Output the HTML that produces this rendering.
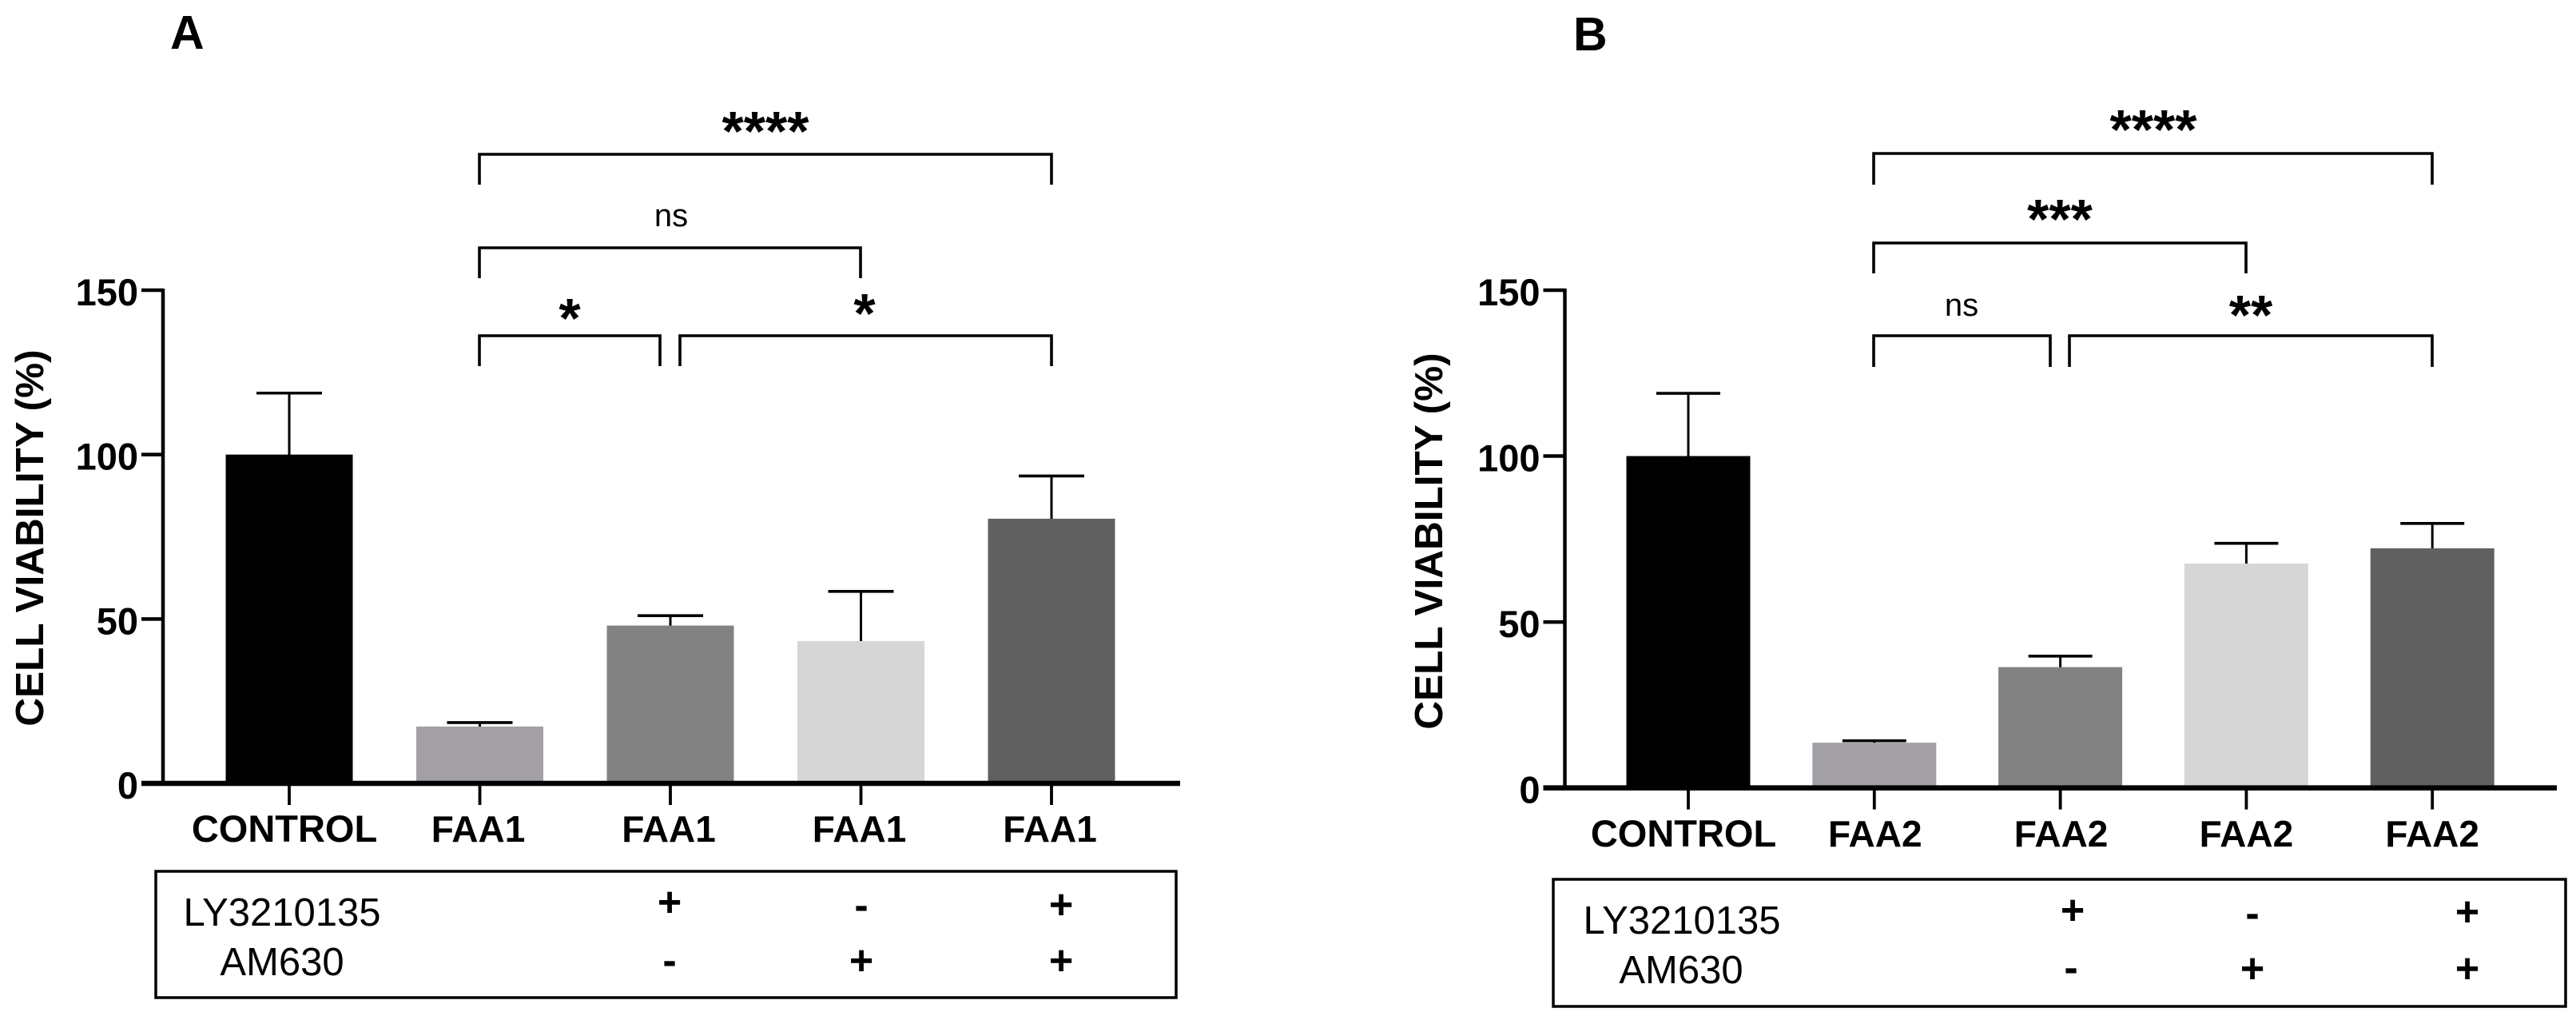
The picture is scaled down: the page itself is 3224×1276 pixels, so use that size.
<!DOCTYPE html>
<html lang="en">
<head>
<meta charset="utf-8">
<title>Cell viability</title>
<style>
html,body{margin:0;padding:0;background:#fff;width:3224px;height:1276px;overflow:hidden}
svg{display:block}
text{font-family:"Liberation Sans",Arial,sans-serif;fill:#000}
.b{font-weight:700}
.br{fill:none;stroke:#000;stroke-width:3.6}
.star{font-weight:700;font-size:70px;text-anchor:middle}
.ns{font-size:40px;text-anchor:middle}
.reg{font-size:49px;text-anchor:middle}
.sign{font-size:52px;font-weight:700;text-anchor:middle}
.box{fill:none;stroke:#000;stroke-width:3.5}
</style>
</head>
<body>
<svg id="chart" xmlns="http://www.w3.org/2000/svg" width="3224" height="1276" viewBox="0 0 3224 1276">
  <rect x="0" y="0" width="3224" height="1276" fill="#fff"/>

  <g id="panel-a">
    <text class="b" x="213" y="61" font-size="59">A</text>
    <path class="br" d="M600 231V193H1316V231"/>
    <text class="star" x="958" y="188">****</text>
    <path class="br" d="M600 348V310H1077V348"/>
    <text class="ns" x="840" y="283">ns</text>
    <path class="br" d="M600 458V420H826V458"/>
    <text class="star" x="713" y="422">*</text>
    <path class="br" d="M851 458V420H1316V458"/>
    <text class="star" x="1082" y="416">*</text>

    <rect class="box" x="195" y="1090" width="1277" height="158"/>
    <text class="reg" x="353" y="1158">LY3210135</text>
    <text class="reg" x="353" y="1220">AM630</text>
    <text class="sign" x="838" y="1146">+</text>
    <text class="sign" x="1078" y="1150">-</text>
    <text class="sign" x="1328" y="1149">+</text>
    <text class="sign" x="838" y="1219">-</text>
    <text class="sign" x="1078" y="1219">+</text>
    <text class="sign" x="1328" y="1219">+</text>
  </g>

  <g id="panel-b">
    <text class="b" x="1969" y="63" font-size="59">B</text>
    <path class="br" d="M2345 231V192H3044V231"/>
    <text class="star" x="2695" y="186">****</text>
    <path class="br" d="M2345 342V304H2811V342"/>
    <text class="star" x="2578" y="298">***</text>
    <path class="br" d="M2345 459V420H2566V459"/>
    <text class="ns" x="2455" y="395">ns</text>
    <path class="br" d="M2590 459V420H3044V459"/>
    <text class="star" x="2817" y="418">**</text>

    <rect class="box" x="1944" y="1100" width="1267" height="159"/>
    <text class="reg" x="2105" y="1168">LY3210135</text>
    <text class="reg" x="2104" y="1230">AM630</text>
    <text class="sign" x="2594" y="1156">+</text>
    <text class="sign" x="2819" y="1160">-</text>
    <text class="sign" x="3088" y="1158">+</text>
    <text class="sign" x="2592" y="1228">-</text>
    <text class="sign" x="2819" y="1229">+</text>
    <text class="sign" x="3088" y="1229">+</text>
  </g>
</svg>
<script>
var categoriesA = ['CONTROL', 'FAA1', 'FAA1', 'FAA1', 'FAA1'];
var valuesA = [100, 17.3, 48, 43.3, 80.5];
var errorsA = [18.7, 1.2, 3, 15.1, 13];
var categoriesB = ['CONTROL', 'FAA2', 'FAA2', 'FAA2', 'FAA2'];
var valuesB = [100, 13.6, 36.4, 67.6, 72.2];
var errorsB = [18.9, 0.6, 3.3, 6.1, 7.5];
var yTicks = [0, 50, 100, 150];
var barColors = ['#000000', '#a2a0a5', '#828282', '#d6d6d6', '#606060'];
var yAxisTitle = 'CELL VIABILITY (%)';

var NS = 'http://www.w3.org/2000/svg';

function mk(parent, tag, attrs, text) {
  var el = document.createElementNS(NS, tag);
  for (var k in attrs) { el.setAttribute(k, attrs[k]); }
  if (text !== undefined) { el.textContent = text; }
  parent.appendChild(el);
  return el;
}

function label(el, name) {
  
  
}

function drawPanel(group, prefix, cats, vals, errs, g) {
  function yScale(v) { return g.y0 - v * (g.y0 - g.y150) / 150; }
  function xScale(i) { return g.x0 + i * g.step; }

  // bars and error bars
  cats.forEach(function (c, i) {
    var x = xScale(i), top = yScale(vals[i]), et = yScale(vals[i] + errs[i]);
    var stem = mk(group, 'line', {x1: x, x2: x, y1: top + 2, y2: et, stroke: '#000', 'stroke-width': 3});
    label(stem, prefix + '-error-stem-' + (i + 1));
    var cap = mk(group, 'line', {x1: x - g.cap / 2, x2: x + g.cap / 2, y1: et, y2: et, stroke: '#000', 'stroke-width': 3.6});
    label(cap, prefix + '-error-cap-' + (i + 1));
    var bar = mk(group, 'rect', {x: x - g.barW / 2, y: top, width: g.barW, height: g.y0 - top, fill: barColors[i]});
    label(bar, prefix + '-bar-' + (i + 1));
    var tick = mk(group, 'line', {x1: x, x2: x, y1: g.y0, y2: g.y0 + 27, stroke: '#000', 'stroke-width': 3.8});
    label(tick, prefix + '-x-tick-' + (i + 1));
    var txt = mk(group, 'text', {x: x + g.labelDx[i], y: g.labelY, 'text-anchor': 'middle', 'class': 'b', 'font-size': i === 0 ? 47 : 46}, c);
    label(txt, prefix + '-x-label-' + (i + 1));
  });

  // axes
  var xAxis = mk(group, 'line', {x1: g.axisX - 27, x2: g.axisEnd, y1: g.y0, y2: g.y0, stroke: '#000', 'stroke-width': 6.5});
  label(xAxis, prefix + '-x-axis');
  var yAxis = mk(group, 'line', {x1: g.axisX, x2: g.axisX, y1: g.y0, y2: yScale(150) - 2, stroke: '#000', 'stroke-width': 4.5});
  label(yAxis, prefix + '-y-axis');

  yTicks.forEach(function (t) {
    var y = yScale(t);
    if (t > 0) {
      var tk = mk(group, 'line', {x1: g.axisX - 27, x2: g.axisX, y1: y, y2: y, stroke: '#000', 'stroke-width': 4.5});
      label(tk, prefix + '-y-tick-' + t);
    }
    var tl = mk(group, 'text', {x: g.axisX - 31, y: y + 2 + 17, 'text-anchor': 'end', 'class': 'b', 'font-size': 47}, String(t));
    label(tl, prefix + '-y-label-' + t);
  });

  var title = mk(group, 'text', {
    transform: 'translate(' + g.titleX + ' ' + g.titleY + ') rotate(-90)',
    'text-anchor': 'middle', 'class': 'b', 'font-size': 49.5
  }, yAxisTitle);
  label(title, prefix + '-y-axis-title');
}

drawPanel(document.getElementById('panel-a'), 'panel-a', categoriesA, valuesA, errorsA, {
  x0: 362, step: 238.5, barW: 159, cap: 82, y0: 980, y150: 363, axisX: 204, axisEnd: 1477,
  labelY: 1053, labelDx: [-6, -2, -2, -2, -2], titleX: 54, titleY: 673
});
drawPanel(document.getElementById('panel-b'), 'panel-b', categoriesB, valuesB, errorsB, {
  x0: 2113, step: 232.8, barW: 155, cap: 80, y0: 985.6, y150: 363, axisX: 1958.5, axisEnd: 3200,
  labelY: 1059, labelDx: [-6, 1, 1, 0, 0], titleX: 1805, titleY: 677
});
</script>
</body>
</html>
